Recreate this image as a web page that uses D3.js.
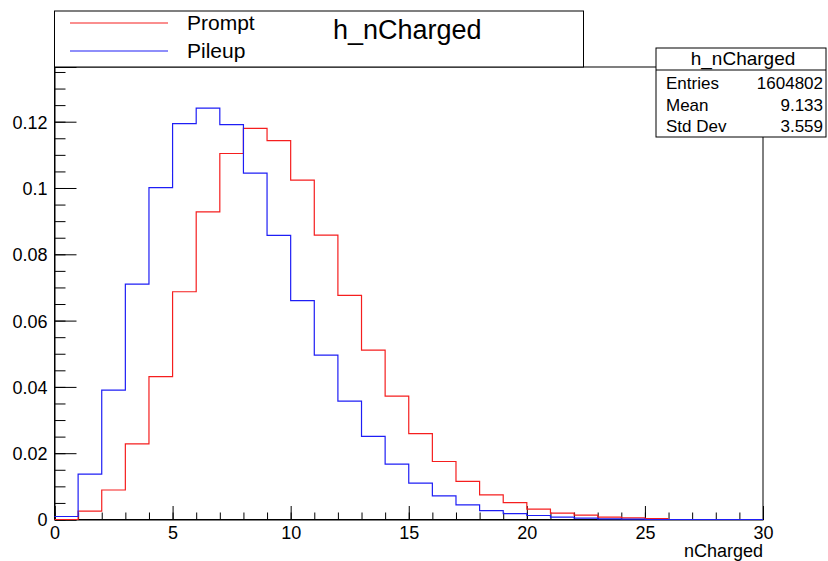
<!DOCTYPE html>
<html lang="en">
<head>
    <meta charset="UTF-8">
    <script src="https://d3js.org/d3.v7.min.js"></script>
    <title>h_nCharged</title>
    <style>
        body { margin: 0; background: #fff; }
        text { font-family: "Liberation Sans", Arial, sans-serif; fill: #000; }
    </style>
</head>
<body>
<div id="chart"></div>
<script>
    // bin edges 0..30, one value per unit bin
    var binEdges = d3.range(0, 31);
    var prompt = [0, 0.0025, 0.0089, 0.0228, 0.0431, 0.0687, 0.0928, 0.1104, 0.1180, 0.1143, 0.1024, 0.0858,
        0.0676, 0.0511, 0.0372, 0.0259, 0.0175, 0.0115, 0.0074, 0.0051, 0.0031, 0.0019, 0.0013, 0.0007,
        0.0005, 0.0003, 0, 0, 0, 0];
    var pileup = [0.0009, 0.0137, 0.0390, 0.0710, 0.1001, 0.1194, 0.1241, 0.1191, 0.1045, 0.0857, 0.0660, 0.0496,
        0.0357, 0.0251, 0.0167, 0.0110, 0.0071, 0.0044, 0.0027, 0.0018, 0.0012, 0.0007, 0.0004, 0.0002,
        0.0001, 0, 0, 0, 0, 0];
    var xTicks = [0, 5, 10, 15, 20, 25, 30];
    var yTicks = [0, 0.02, 0.04, 0.06, 0.08, 0.1, 0.12];
    var legendNames = ["Prompt", "Pileup"];
    var statLabels = ["Entries", "Mean", "Std Dev"];
    var statValues = ["1604802", "9.133", "3.559"];
    var histTitle = "h_nCharged";
    var xTitle = "nCharged";

    var canvasWidth = 828, canvasHeight = 561;
    var frameL = 54.5, frameR = 763, frameT = 67, frameB = 519.5;

    var svg = d3.select("#chart").append("svg")
        .attr("width", canvasWidth)
        .attr("height", canvasHeight);

    var xScale = d3.scaleLinear().domain([0, 30]).range([frameL, frameR]);
    var yScale = d3.scaleLinear().domain([0, 0.1365]).range([frameB, frameT]);

    // frame
    svg.append("rect")
        .attr("x", frameL).attr("y", frameT)
        .attr("width", frameR - frameL).attr("height", frameB - frameT)
        .attr("fill", "none").attr("stroke", "#000").attr("stroke-width", 1);

    // minor ticks
    svg.append("g")
        .attr("transform", "translate(0," + frameB + ")")
        .call(d3.axisBottom(xScale).tickValues(binEdges).tickSize(-7).tickFormat(""))
        .call(g => g.select(".domain").remove());
    svg.append("g")
        .attr("transform", "translate(" + frameL + ",0)")
        .call(d3.axisLeft(yScale).tickValues(d3.range(0, 28).map(i => i * 0.005)).tickSize(-11).tickFormat(""))
        .call(g => g.select(".domain").remove());

    // major ticks + labels
    var xAxis = svg.append("g")
        .attr("transform", "translate(0," + frameB + ")")
        .call(d3.axisBottom(xScale).tickValues(xTicks).tickSize(-13.5).tickPadding(7)
            .tickFormat(d3.format("d")));
    var yAxis = svg.append("g")
        .attr("transform", "translate(" + frameL + ",0)")
        .call(d3.axisLeft(yScale).tickValues(yTicks).tickSize(-22).tickPadding(7)
            .tickFormat(function(d) { return d === 0 ? "0" : d3.format("~g")(d); }));
    [xAxis, yAxis].forEach(function(g) {
        g.attr("font-family", "Liberation Sans, Arial, sans-serif").attr("font-size", 18);
        g.selectAll("line").attr("stroke", "#000");
        g.select(".domain").attr("stroke", "#000");
        g.selectAll("text").attr("fill", "#000");
    });
    yAxis.selectAll(".tick text").attr("dy", "0.36em");

    svg.append("text")
        .attr("x", frameR).attr("y", 557)
        .attr("text-anchor", "end")
        .attr("font-size", 18)
        .text(xTitle);

    // histograms as step lines
    var step = d3.line()
        .x(function(d) { return xScale(d[0]); })
        .y(function(d) { return yScale(d[1]); })
        .curve(d3.curveStepAfter);
    function stepPoints(values, nBins) {
        var pts = values.slice(0, nBins).map(function(v, i) { return [binEdges[i], v]; });
        pts.push([binEdges[nBins], values[nBins - 1]]);
        return pts;
    }
    svg.append("path")
        .attr("d", step(stepPoints(prompt, 26)))
        .attr("fill", "none").attr("stroke", "#f51e1e").attr("stroke-width", 1.2);
    svg.append("path")
        .attr("d", step(stepPoints(pileup, 30)))
        .attr("fill", "none").attr("stroke", "#1e1ef5").attr("stroke-width", 1.2);

    // legend box
    var legend = svg.append("g");
    legend.append("rect")
        .attr("x", frameL).attr("y", 11)
        .attr("width", 529).attr("height", frameT - 11)
        .attr("fill", "#fff").attr("stroke", "#000");
    var legendColors = ["#f51e1e", "#1e1ef5"];
    legendNames.forEach(function(name, i) {
        var yy = 23 + i * 28;
        legend.append("line")
            .attr("x1", 70).attr("x2", 168).attr("y1", yy).attr("y2", yy)
            .attr("stroke", legendColors[i]).attr("stroke-width", 1.2);
        legend.append("text")
            .attr("x", 187).attr("y", yy + 7)
            .attr("font-size", 21)
            .text(name);
    });
    legend.append("text")
        .attr("x", 333).attr("y", 39)
        .attr("font-size", 27)
        .text(histTitle);

    // stats box
    var stats = svg.append("g");
    stats.append("rect")
        .attr("x", 656).attr("y", 48)
        .attr("width", 170).attr("height", 89)
        .attr("fill", "#fff").attr("stroke", "#000");
    stats.append("line")
        .attr("x1", 656).attr("x2", 826).attr("y1", 70).attr("y2", 70)
        .attr("stroke", "#000");
    stats.append("text")
        .attr("x", 743).attr("y", 65)
        .attr("text-anchor", "middle")
        .attr("font-size", 19)
        .text(histTitle);
    statLabels.forEach(function(label, i) {
        var yy = 89 + i * 21.5;
        stats.append("text")
            .attr("x", 666).attr("y", yy)
            .attr("font-size", 17)
            .text(label);
        stats.append("text")
            .attr("x", 823).attr("y", yy)
            .attr("text-anchor", "end")
            .attr("font-size", 17)
            .text(statValues[i]);
    });
</script>
</body>
</html>
